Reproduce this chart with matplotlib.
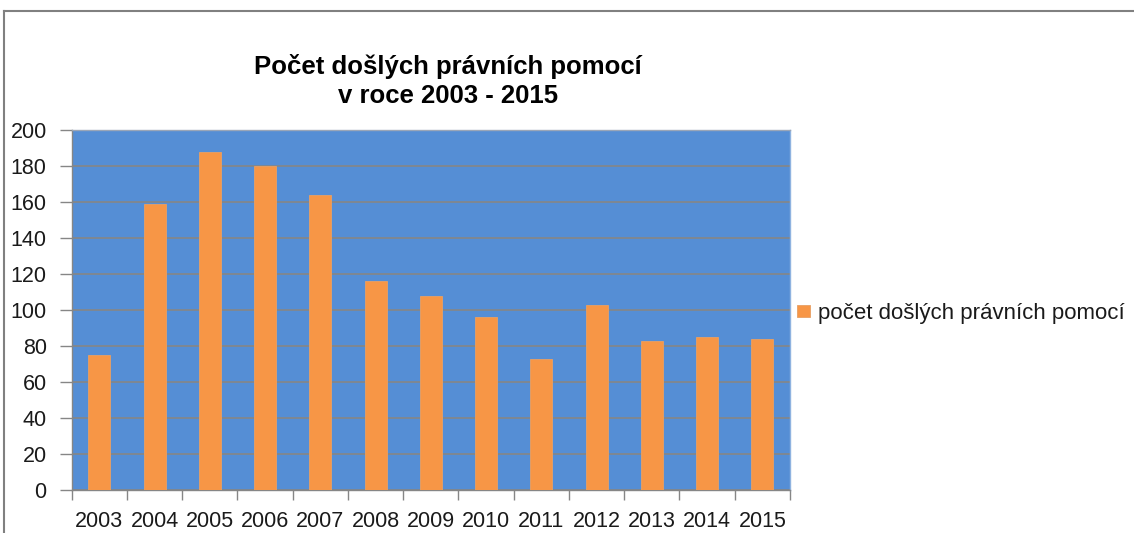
import matplotlib
matplotlib.use("Agg")
import matplotlib.pyplot as plt
from matplotlib.lines import Line2D
import numpy as np

years = ["2003", "2004", "2005", "2006", "2007", "2008", "2009",
         "2010", "2011", "2012", "2013", "2014", "2015"]
values = [75, 159, 188, 180, 164, 116, 108, 96, 73, 103, 83, 85, 84]
series_name = "počet došlých právních pomocí"
title = "Počet došlých právních pomocí\nv roce 2003 - 2015"

plt.rcParams['font.family'] = ['Liberation Sans', 'DejaVu Sans']

W, H = 1134, 533
fig = plt.figure(figsize=(W / 100, H / 100), dpi=100)
fig.patch.set_facecolor('white')

ax = fig.add_axes([71.7 / W, 1 - 490 / H, (790 - 71.7) / W, (490 - 130) / H])
ax.set_facecolor('#558ED5')

x = np.arange(len(years))
ax.bar(x, values, width=0.4, color='#F79646', edgecolor='#E8A064',
       linewidth=0.6, label=series_name, zorder=3)

ax.set_xlim(-0.5, len(years) - 0.5)
ax.set_ylim(0, 200)
ax.set_yticks(range(0, 201, 20))
ax.yaxis.grid(True, color='#868686', linewidth=1.2, zorder=1)
ax.set_axisbelow(True)

ax.set_xticks(x)
ax.set_xticklabels(years)
ax.set_xticks(np.arange(-0.5, len(years), 1), minor=True)
ax.tick_params(axis='x', which='major', length=0, pad=15, labelsize=15.5, colors='#1a1a1a')
ax.tick_params(axis='x', which='minor', length=7, width=1, color='#868686')
ax.tick_params(axis='y', length=9, width=1, color='#868686', labelsize=15.5,
               labelcolor='#1a1a1a', pad=9)

ax.spines['top'].set_color('#9aa6b8')
ax.spines['right'].set_color('#8fb3e0')
ax.spines['left'].set_color('#868686')
ax.spines['bottom'].set_color('#868686')
for s in ax.spines.values():
    s.set_linewidth(1)

fig.text(448 / W, 1 - 81 / H, title, ha='center', va='center',
         fontsize=18.5, fontweight='bold', linespacing=1.25, color='black')

leg = fig.legend(loc='center left', bbox_to_anchor=(797 / W, 1 - 313 / H),
                 frameon=False, fontsize=16, handlelength=0.6,
                 handleheight=0.45, handletextpad=0.35, borderpad=0,
                 borderaxespad=0)
for t in leg.get_texts():
    t.set_color('#1a1a1a')

# outer frame
fig.add_artist(Line2D([4 / W, 4 / W], [0, 1 - 11 / H], transform=fig.transFigure,
                      color='#808080', linewidth=1.5))
fig.add_artist(Line2D([4 / W, 1], [1 - 11 / H, 1 - 11 / H], transform=fig.transFigure,
                      color='#808080', linewidth=1.5))

fig.savefig('out.png', dpi=100)
